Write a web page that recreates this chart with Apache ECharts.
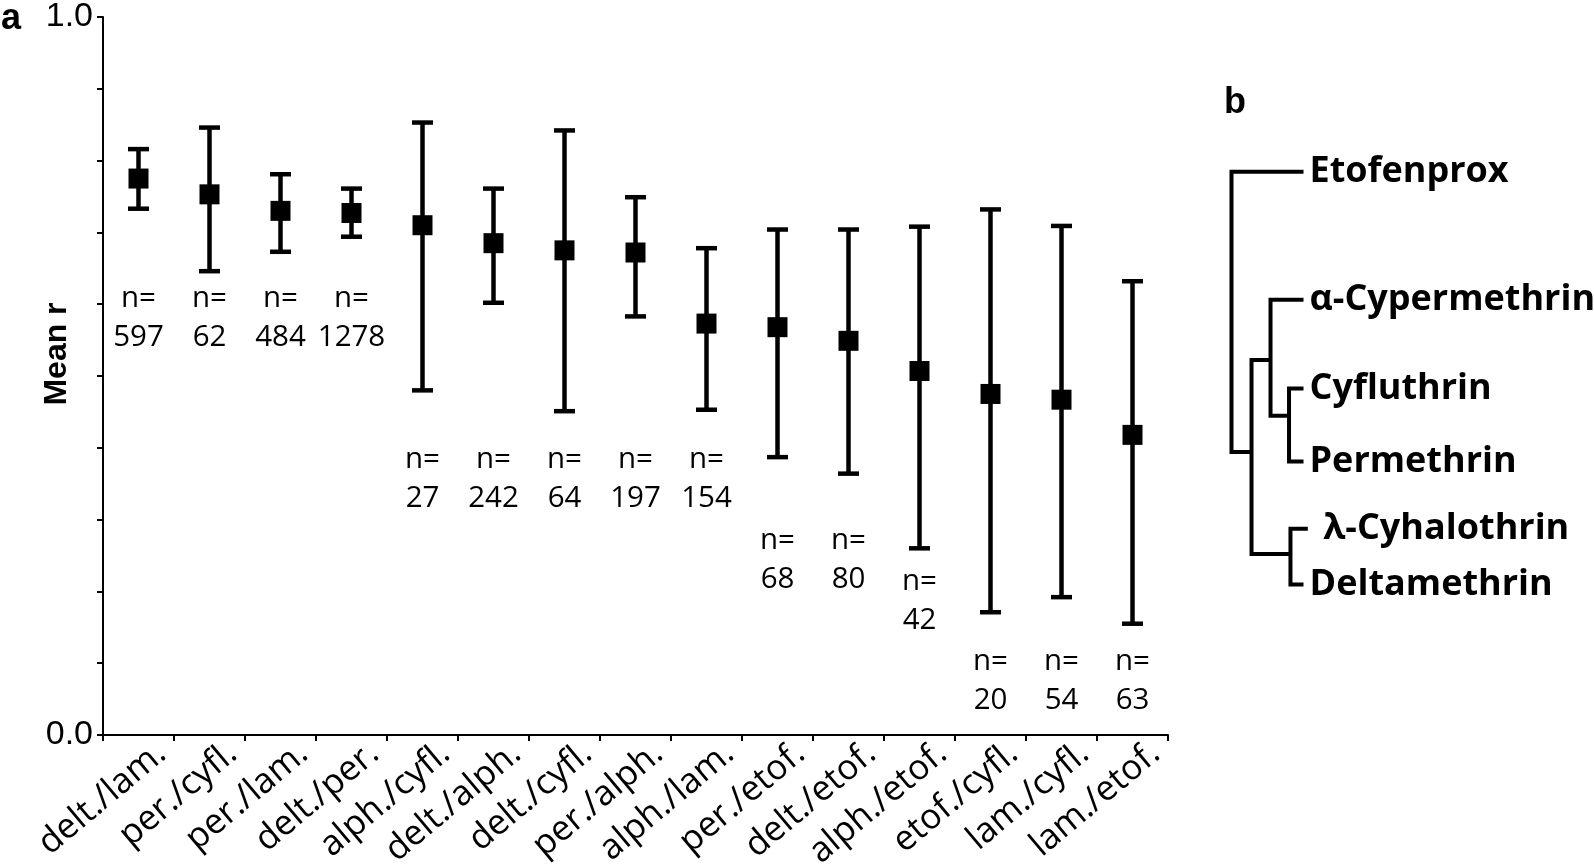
<!DOCTYPE html>
<html><head><meta charset="utf-8">
<script src="https://cdn.jsdelivr.net/npm/echarts@6/dist/echarts.min.js"></script>
<style>html,body{margin:0;padding:0;background:#fff}#c{width:1594px;height:865px}</style>
</head><body><div id="c"></div>
<script>
// ---------- data ----------
const categories = ['delt./lam.','per./cyfl.','per./lam.','delt./per.','alph./cyfl.','delt./alph.','delt./cyfl.','per./alph.','alph./lam.','per./etof.','delt./etof.','alph./etof.','etof./cyfl.','lam./cyfl.','lam./etof.'];
const meanR  = [0.775, 0.753, 0.730, 0.727, 0.710, 0.685, 0.675, 0.672, 0.573, 0.568, 0.549, 0.507, 0.475, 0.467, 0.418];
const upperR = [0.816, 0.846, 0.781, 0.761, 0.853, 0.761, 0.842, 0.749, 0.678, 0.704, 0.704, 0.708, 0.732, 0.709, 0.632];
const lowerR = [0.733, 0.646, 0.673, 0.694, 0.480, 0.602, 0.451, 0.583, 0.453, 0.387, 0.364, 0.260, 0.171, 0.192, 0.155];
const nValues = [597, 62, 484, 1278, 27, 242, 64, 197, 154, 68, 80, 42, 20, 54, 63];
const nLabelAt = [0.581, 0.581, 0.581, 0.581, 0.357, 0.357, 0.357, 0.357, 0.357, 0.243, 0.243, 0.187, 0.075, 0.075, 0.075];
const yTickLabels = ['0.0', '1.0'];
const yTitle = 'Mean r';
const panelLabels = ['a', 'b'];

// dendrogram (panel b)
const leafNames = ['Etofenprox', 'α-Cypermethrin', 'Cyfluthrin', 'Permethrin', ' λ-Cyhalothrin', 'Deltamethrin'];
const leafRow = [0, 0.310, 0.525, 0.702, 0.865, 1];
const leafReach = [1, 1, 1, 1, 1.06, 1];
// merges: [childA, childB, height]; 'L#' = leaf, 'N#' = earlier merge
const merges = [['L2', 'L3', 0.799], ['L4', 'L5', 0.819], ['L1', 'N0', 0.542], ['N2', 'N1', 0.278], ['L0', 'N3', 0]];
const mergeRow = [0.591, 0.926, 0.456, 0.679, 0.34];

// ---------- derived tree node positions (data units) ----------
const nodePos = merges.map((m, k) => [m[2], mergeRow[k]]);
function childPos(id) {
  const k = +id.slice(1);
  return id[0] === 'L' ? [leafReach[k], leafRow[k]] : nodePos[k];
}

const BLACK = '#000';
const LABEL_ROT = 40 * Math.PI / 180;
const chart = echarts.init(document.getElementById('c'), null, {renderer: 'canvas'});

const option = {
  animation: false,
  backgroundColor: '#fff',
  grid: [
    {left: 103, top: 12, width: 1065, height: 723},
    {left: 1231.5, top: 171.8, width: 72, height: 412.7}
  ],
  xAxis: [
    {
      type: 'category', gridIndex: 0, data: categories, boundaryGap: true,
      axisLine: {show: true, lineStyle: {color: BLACK, width: 2}},
      axisTick: {show: true, interval: 0, length: 6, lineStyle: {color: BLACK, width: 2}},
      axisLabel: {show: false, interval: 0},
      splitLine: {show: false}
    },
    {type: 'value', gridIndex: 1, min: 0, max: 1, show: false}
  ],
  yAxis: [
    {
      type: 'value', gridIndex: 0, min: 0, max: 1, interval: 0.1,
      axisLine: {show: true, lineStyle: {color: BLACK, width: 2}},
      axisTick: {show: true, length: 6, lineStyle: {color: BLACK, width: 2}},
      axisLabel: {
        margin: 10, fontFamily: 'Liberation Sans', fontSize: 34, color: BLACK,
        formatter: v => Math.abs(v) < 1e-9 ? yTickLabels[0] : (Math.abs(v - 1) < 1e-9 ? yTickLabels[1] : '')
      },
      splitLine: {show: false}
    },
    {type: 'value', gridIndex: 1, min: 0, max: 1, inverse: true, show: false}
  ],
  graphic: [
    {type: 'text', x: 1, y: 19, style: {text: panelLabels[0], fontFamily: 'Liberation Sans', fontWeight: 'bold', fontSize: 36, fill: BLACK, align: 'left', verticalAlign: 'middle'}},
    {type: 'text', x: 1224, y: 103, style: {text: panelLabels[1], fontFamily: 'Liberation Sans', fontWeight: 'bold', fontSize: 36, fill: BLACK, align: 'left', verticalAlign: 'middle'}},
    {type: 'text', x: 57, y: 354, rotation: Math.PI / 2, style: {text: yTitle, fontFamily: 'Liberation Sans', fontWeight: 'bold', fontSize: 32, fill: BLACK, align: 'center', verticalAlign: 'middle'}}
  ],
  series: [
    {
      // error bars with square means
      type: 'custom', xAxisIndex: 0, yAxisIndex: 0, silent: true,
      data: categories.map((c, i) => [i, meanR[i], lowerR[i], upperR[i]]),
      encode: {x: 0, y: [1, 2, 3]},
      renderItem: (params, api) => {
        const i = api.value(0);
        const pm = api.coord([i, api.value(1)]);
        const pl = api.coord([i, api.value(2)]);
        const pu = api.coord([i, api.value(3)]);
        const cw = 10.5, sq = 20;
        const ls = {stroke: BLACK, lineWidth: 4.5, fill: null};
        return {type: 'group', children: [
          {type: 'line', shape: {x1: pm[0], y1: pu[1], x2: pm[0], y2: pl[1]}, style: ls},
          {type: 'line', shape: {x1: pm[0] - cw, y1: pu[1], x2: pm[0] + cw, y2: pu[1]}, style: ls},
          {type: 'line', shape: {x1: pm[0] - cw, y1: pl[1], x2: pm[0] + cw, y2: pl[1]}, style: ls},
          {type: 'rect', shape: {x: pm[0] - sq / 2, y: pm[1] - sq / 2, width: sq, height: sq}, style: {fill: BLACK}}
        ]};
      }
    },
    {
      // n= annotations
      type: 'custom', xAxisIndex: 0, yAxisIndex: 0, silent: true,
      data: categories.map((c, i) => [i, nLabelAt[i], nValues[i]]),
      encode: {x: 0, y: 1},
      renderItem: (params, api) => {
        const p = api.coord([api.value(0), api.value(1)]);
        return {type: 'text', x: p[0], y: p[1], style: {
          text: 'n=\n' + api.value(2), align: 'center', verticalAlign: 'middle',
          fontFamily: 'Open Sans', fontSize: 29.5, lineHeight: 39, fill: BLACK
        }};
      }
    },
    {
      // rotated category labels
      type: 'custom', xAxisIndex: 0, yAxisIndex: 0, silent: true,
      data: categories.map((c, i) => [i, 0]),
      encode: {x: 0, y: 1},
      renderItem: (params, api) => {
        const i = api.value(0);
        const p = api.coord([i, 0]);
        return {type: 'text', x: p[0] + 23, y: p[1] + 14, rotation: LABEL_ROT, style: {
          text: categories[i], align: 'right', verticalAlign: 'middle',
          fontFamily: 'Open Sans', fontSize: 35, fill: BLACK
        }};
      }
    },
    {
      // dendrogram branches
      type: 'custom', xAxisIndex: 1, yAxisIndex: 1, silent: true,
      data: nodePos.map(p => [p[0], p[1]]),
      encode: {x: 0, y: 1},
      renderItem: (params, api) => {
        const k = params.dataIndex;
        const m = merges[k];
        const a = childPos(m[0]), b = childPos(m[1]);
        const h = m[2];
        const pts = [api.coord([a[0], a[1]]), api.coord([h, a[1]]), api.coord([h, b[1]]), api.coord([b[0], b[1]])];
        return {type: 'polyline', shape: {points: pts}, style: {stroke: BLACK, lineWidth: 4, fill: null, lineJoin: 'miter'}};
      }
    },
    {
      // dendrogram leaf labels
      type: 'custom', xAxisIndex: 1, yAxisIndex: 1, silent: true,
      data: leafNames.map((n, i) => [leafReach[i], leafRow[i]]),
      encode: {x: 0, y: 1},
      renderItem: (params, api) => {
        const k = params.dataIndex;
        const p = api.coord([api.value(0), api.value(1)]);
        return {type: 'text', x: p[0] + 6, y: p[1], style: {
          text: leafNames[k], align: 'left', verticalAlign: 'middle',
          fontFamily: 'Open Sans', fontWeight: 'bold', fontSize: 36, fill: BLACK
        }};
      }
    }
  ]
};
chart.setOption(option);
</script>
</body></html>
